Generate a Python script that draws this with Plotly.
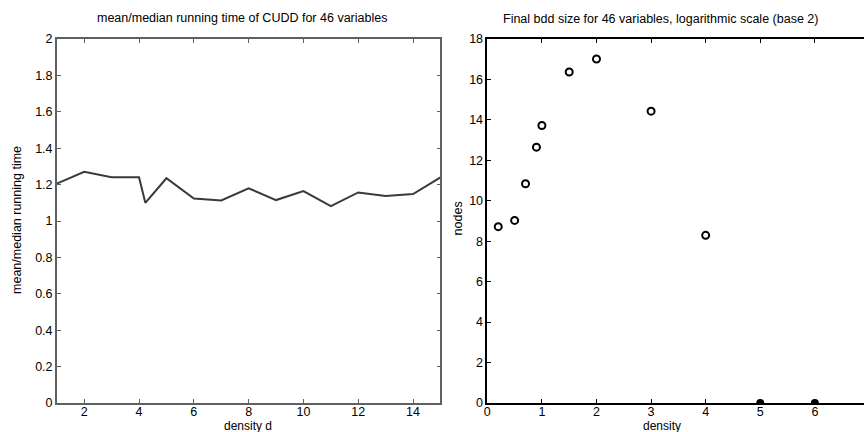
import plotly.graph_objects as go

# Left panel data: mean/median running time of CUDD
density_d = [1, 2, 3, 4, 4.23, 5, 6, 7, 8, 9, 10, 11, 12, 13, 14, 15]
ratio = [1.205, 1.27, 1.24, 1.24, 1.10, 1.235, 1.124, 1.113, 1.18, 1.115, 1.164, 1.082, 1.157, 1.137, 1.148, 1.24]

# Right panel data: final bdd size (log2)
density = [0.2, 0.5, 0.7, 0.9, 1.0, 1.5, 2.0, 3.0, 4.0]
nodes = [8.72, 9.03, 10.84, 12.65, 13.72, 16.37, 17.01, 14.43, 8.29]
density_zero = [5, 6]
nodes_zero = [0, 0]

FONT = "Liberation Sans, Arial, sans-serif"
W, H = 864, 432
ML, MR, MT, MB = 0, 0, 39, 29

fig = go.Figure()
fig.add_trace(go.Scatter(x=density_d, y=ratio, mode="lines",
                         line=dict(color="#3a3a3a", width=2),
                         xaxis="x", yaxis="y", showlegend=False))
fig.add_trace(go.Scatter(x=density, y=nodes, mode="markers",
                         marker=dict(symbol="circle-open", size=7, color="black",
                                     line=dict(width=2, color="black")),
                         xaxis="x2", yaxis="y2", showlegend=False))
fig.add_trace(go.Scatter(x=density_zero, y=nodes_zero, mode="markers",
                         marker=dict(symbol="circle", size=8, color="black"),
                         xaxis="x2", yaxis="y2", showlegend=False, cliponaxis=True))

axfont = dict(family=FONT, size=12.5, color="black")
common = dict(showgrid=False, zeroline=False, ticks="inside", ticklen=4,
              tickfont=axfont, showline=True, linewidth=1.5)

fig.update_layout(
    width=W, height=H,
    margin=dict(l=ML, r=MR, t=MT, b=MB),
    paper_bgcolor="white", plot_bgcolor="white",
    font=dict(family=FONT, size=12.5, color="black"),
    xaxis=dict(domain=[54/W, 439/W], range=[1, 15], tickvals=[2, 4, 6, 8, 10, 12, 14],
               mirror="ticks", linecolor="#606060", tickcolor="#606060", anchor="y",
               ticklabelstandoff=-4, **common),
    yaxis=dict(domain=[0, 1], range=[0, 2], tickvals=[0, 0.2, 0.4, 0.6, 0.8, 1, 1.2, 1.4, 1.6, 1.8, 2],
               mirror="ticks", linecolor="#606060", tickcolor="#606060", anchor="x", **common),
    xaxis2=dict(domain=[486/W, 1.0], range=[0, 6.9], tickvals=[0, 1, 2, 3, 4, 5, 6],
                mirror="ticks", linecolor="black", tickcolor="black", anchor="y2",
                ticklabelstandoff=-4, **common),
    yaxis2=dict(domain=[0, 1], range=[0, 18], tickvals=list(range(0, 19, 2)),
                mirror=False, linecolor="black", tickcolor="black", anchor="x2", **common),
)

# annotations given in pixel positions (from top-left), converted to paper coords
labels = [
    ("mean/median running time of CUDD for 46 variables", 240, 18, 0, 12.5),
    ("Final bdd size for 46 variables, logarithmic scale (base 2)", 660, 19, 0, 12.5),
    ("density d", 246, 425.5, 0, 12),
    ("density", 661, 425.5, 0, 12),
    ("mean/median running time", 14, 220, -90, 12.5),
    ("nodes", 457, 218, -90, 12.5),
]
anns = []
for text, px, py, ang, fs in labels:
    anns.append(dict(text=text, x=(px - ML) / (W - ML - MR), y=(H - MB - py) / (H - MT - MB),
                     xref="paper", yref="paper", showarrow=False, textangle=ang,
                     xanchor="center", yanchor="middle",
                     font=dict(family=FONT, size=fs, color="black")))
fig.update_layout(annotations=anns)

fig.write_html("out.html", config={"displayModeBar": False},
               post_script="document.body.style.margin='0';document.body.style.overflow='hidden';")
